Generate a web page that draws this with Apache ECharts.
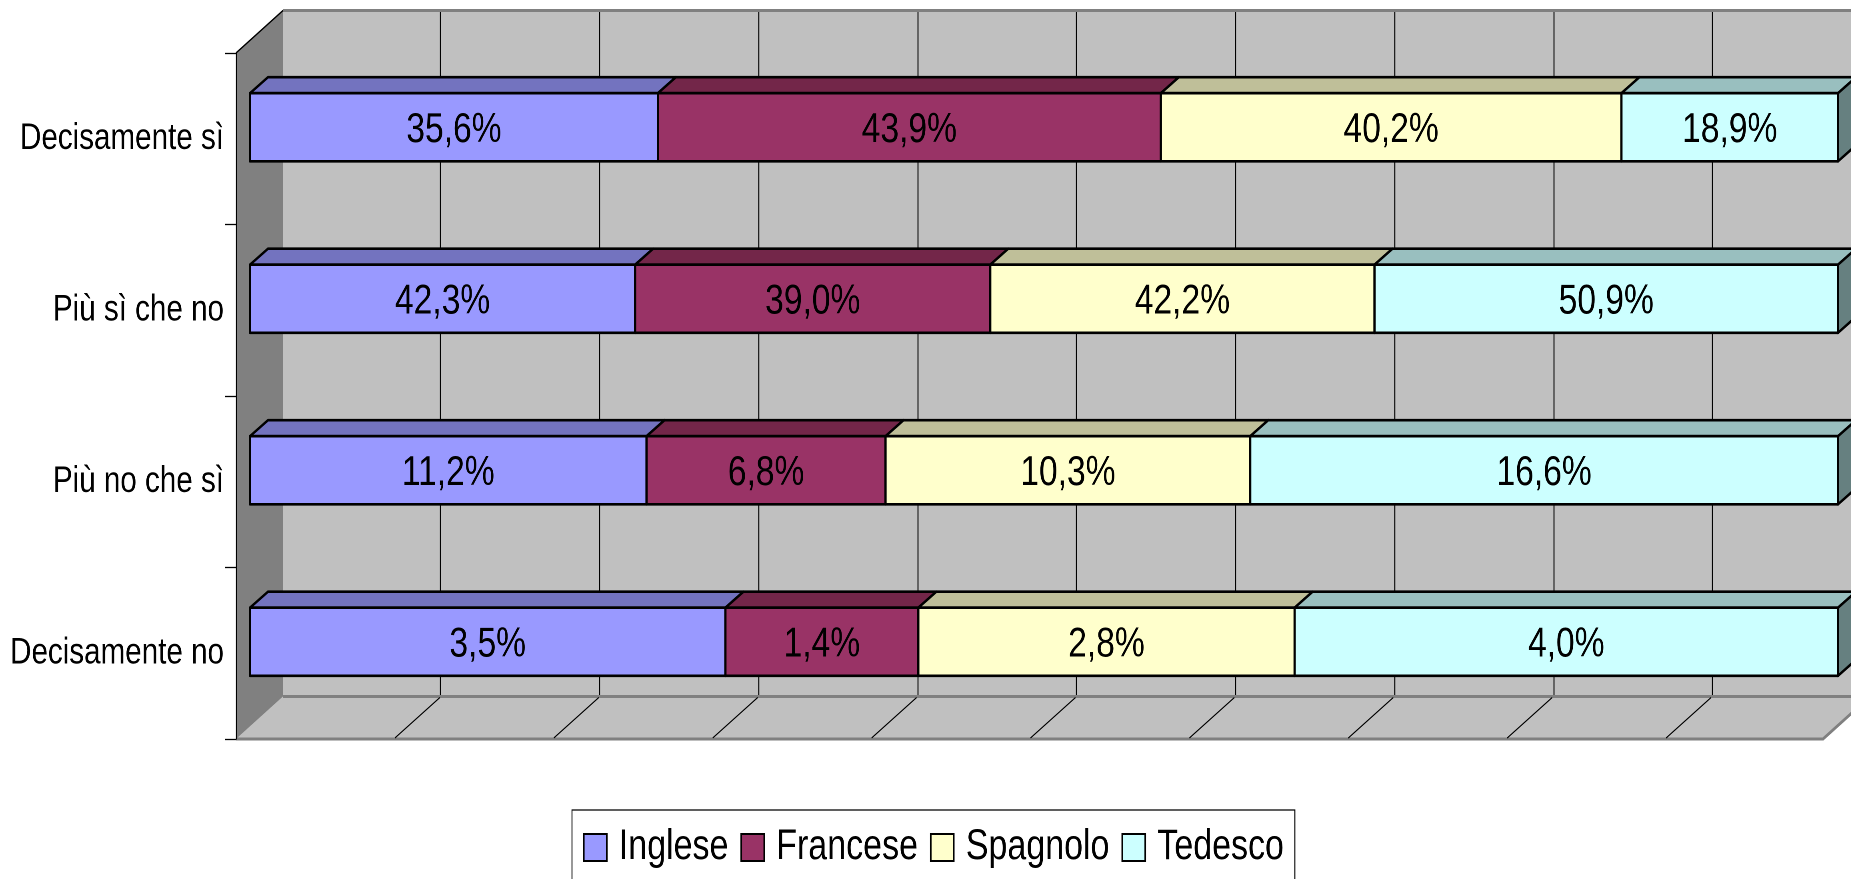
<!DOCTYPE html>
<html>
<head>
<meta charset="utf-8">
<style>
html,body{margin:0;padding:0;background:#fff;overflow:hidden;width:1851px;height:879px}
#c{width:2314px;height:879px;transform:scaleX(0.8);transform-origin:0 0}
</style>
<script src="https://cdn.jsdelivr.net/npm/echarts@6/dist/echarts.min.js"></script>
</head>
<body>
<div id="c"></div>
<script>
const categories = ['Decisamente sì', 'Più sì che no', 'Più no che sì', 'Decisamente no'];
const inglese  = [35.6, 42.3, 11.2, 3.5];
const francese = [43.9, 39.0, 6.75, 1.42];
const spagnolo = [40.2, 42.2, 10.3, 2.77];
const tedesco  = [18.9, 50.9, 16.6, 4.0];
const seriesNames = ['Inglese', 'Francese', 'Spagnolo', 'Tedesco'];
const seriesValues = [inglese, francese, spagnolo, tedesco];
const valueTicks = [0, 10, 20, 30, 40, 50, 60, 70, 80, 90, 100];

const frontColors = ['#9999FF', '#993366', '#FFFFCC', '#CCFFFF'];
const topColors = ['#7373BF', '#732649', '#BFBF99', '#99BFBF'];
const sideColors = ['#4D4D80', '#4D1A33', '#808066', '#668080'];
const FONT = '"Liberation Sans",Arial,sans-serif';
// The original picture is horizontally condensed; the page is squeezed by SX, so horizontal layout sizes are divided by it.
const SX = 0.8;
const px = v => v / SX;
const WALL_DX = px(47), WALL_DY = -42.5, FLOOR_DX = px(45), BAR_DX = px(18), BAR_DY = -16;

const chart = echarts.init(document.getElementById('c'), null, { devicePixelRatio: 2 });

function segments(si) {
  return categories.map((_, ci) => {
    const total = seriesValues.reduce((s, a) => s + a[ci], 0);
    let before = 0;
    for (let k = 0; k < si; k++) before += seriesValues[k][ci];
    const own = seriesValues[si][ci];
    return [before / total * 100, (before + own) / total * 100, ci, own];
  });
}

function renderSegment(si) {
  return function (params, api) {
    const a = api.coord([api.value(0), api.value(2)]);
    const b = api.coord([api.value(1), api.value(2)]);
    const h = api.size([0, 1])[1] * 0.397;
    const x0 = a[0], x1 = b[0], y0 = a[1] - h / 2, y1 = a[1] + h / 2;
    const edge = { stroke: '#000', lineWidth: 2.7, lineJoin: 'round' };
    const children = [
      { type: 'polygon', shape: { points: [[x0, y0], [x0 + BAR_DX, y0 + BAR_DY], [x1 + BAR_DX, y0 + BAR_DY], [x1, y0]] },
        style: Object.assign({ fill: topColors[si] }, edge) }
    ];
    if (api.value(1) > 99.99) {
      children.push({ type: 'polygon', shape: { points: [[x1, y0], [x1 + BAR_DX, y0 + BAR_DY], [x1 + BAR_DX, y1 + BAR_DY], [x1, y1]] },
        style: Object.assign({ fill: sideColors[si] }, edge) });
    }
    children.push({ type: 'rect', shape: { x: x0, y: y0, width: x1 - x0, height: y1 - y0 },
      style: Object.assign({ fill: frontColors[si] }, edge) });
    children.push({ type: 'text', x: (x0 + x1) / 2, y: a[1] + 3,
      style: { text: api.value(3).toFixed(1).replace('.', ',') + '%', fill: '#000', font: '42px ' + FONT, align: 'center', verticalAlign: 'middle' } });
    return { type: 'group', children };
  };
}

function renderFrame(params, api) {
  const tl = api.coord([0, 1]), bl = api.coord([0, 0]), br = api.coord([100, 0]);
  const gray = { stroke: '#808080', lineWidth: 3, fill: 'none' };
  const pts = (a) => a.map(p => [p[0], p[1]]);
  const children = [
    { type: 'polygon', shape: { points: pts([bl, [bl[0] + WALL_DX, bl[1] + WALL_DY], [br[0] + WALL_DX, br[1] + WALL_DY], br]) },
      style: { fill: '#C0C0C0' } },
    { type: 'polygon', shape: { points: pts([tl, [tl[0] + WALL_DX, tl[1] + WALL_DY], [bl[0] + WALL_DX, bl[1] + WALL_DY], bl]) },
      style: { fill: '#808080' } },
    { type: 'polyline', shape: { points: pts([[tl[0] + WALL_DX, tl[1] + WALL_DY], [br[0] + WALL_DX + 40, tl[1] + WALL_DY]]) }, style: gray },
    { type: 'polyline', shape: { points: pts([[bl[0] + WALL_DX, bl[1] + WALL_DY], [br[0] + WALL_DX + 40, bl[1] + WALL_DY]]) }, style: gray },
    { type: 'polyline', shape: { points: pts([bl, [br[0] - px(2), br[1]], [br[0] - px(2) + WALL_DX, br[1] + WALL_DY]]) }, style: gray },
    { type: 'line', shape: { x1: tl[0], y1: tl[1], x2: tl[0] + WALL_DX, y2: tl[1] + WALL_DY }, style: { stroke: '#000', lineWidth: 1.5 } }
  ];
  valueTicks.slice(1, -1).forEach(v => {
    const p = api.coord([v, 0]);
    children.push({ type: 'line', shape: { x1: p[0], y1: p[1] - 1, x2: p[0] + FLOOR_DX, y2: p[1] + WALL_DY + 1 }, style: { stroke: '#000', lineWidth: 1.2 } });
  });
  return { type: 'group', children };
}

const hiddenValue = (gridIndex) => ({
  type: 'value', gridIndex, min: 0, max: 100, interval: 10,
  axisLine: { show: false }, axisTick: { show: false }, axisLabel: { show: false }, splitLine: { show: false }
});

chart.setOption({
  animation: false,
  backgroundColor: '#fff',
  grid: [
    { left: px(281.5), top: 11.5, width: px(1590), height: 685, show: true, backgroundColor: '#C0C0C0', borderWidth: 0, outerBoundsMode: 'none' },
    { left: px(236), top: 53, width: px(1589), height: 686, outerBoundsMode: 'none' },
    { left: px(250), top: 41.5, width: px(1588), height: 686, outerBoundsMode: 'none' }
  ],
  xAxis: [
    Object.assign(hiddenValue(0), { splitLine: { show: true, showMinLine: false, showMaxLine: false, lineStyle: { color: '#000', width: 1.3 } } }),
    hiddenValue(1),
    hiddenValue(2)
  ],
  yAxis: [
    { type: 'value', gridIndex: 0, min: 0, max: 1, show: false },
    { type: 'category', gridIndex: 1, inverse: true, data: categories, z: 5,
      axisLine: { show: true, lineStyle: { color: '#000', width: 1.3 } },
      axisTick: { show: true, length: px(11), alignWithLabel: false, lineStyle: { color: '#000', width: 1.3 } },
      axisLabel: { show: true, margin: px(12), color: '#000', fontFamily: FONT, fontSize: 37, padding: [8, 0, 0, 0] },
      splitLine: { show: false } },
    { type: 'value', gridIndex: 1, min: 0, max: 1, show: false },
    { type: 'category', gridIndex: 2, inverse: true, data: categories, show: false }
  ],
  legend: {
    left: px(572), top: 810,
    orient: 'horizontal',
    data: seriesNames.map(name => ({ name, icon: 'rect' })),
    selectedMode: false,
    itemWidth: px(23), itemHeight: 27, itemGap: px(12),
    padding: [16, px(11), 40, px(11)],
    backgroundColor: '#fff', borderColor: '#000', borderWidth: 1.2, borderRadius: 0,
    textStyle: { color: '#000', fontFamily: FONT, fontSize: 42.5, padding: [0, 0, 0, 10] }
  },
  series: [
    { type: 'custom', name: 'frame', xAxisIndex: 1, yAxisIndex: 2, z: 1, silent: true,
      data: [[0, 1]], renderItem: renderFrame, encode: { x: 0, y: 1 } }
  ].concat(seriesNames.map((name, si) => ({
    type: 'custom', name, xAxisIndex: 2, yAxisIndex: 3, z: 3 + si, silent: true,
    itemStyle: { color: frontColors[si], borderColor: '#000', borderWidth: 2.7 },
    data: segments(si), renderItem: renderSegment(si), encode: { x: [0, 1], y: 2 }
  })))
});
</script>
</body>
</html>
